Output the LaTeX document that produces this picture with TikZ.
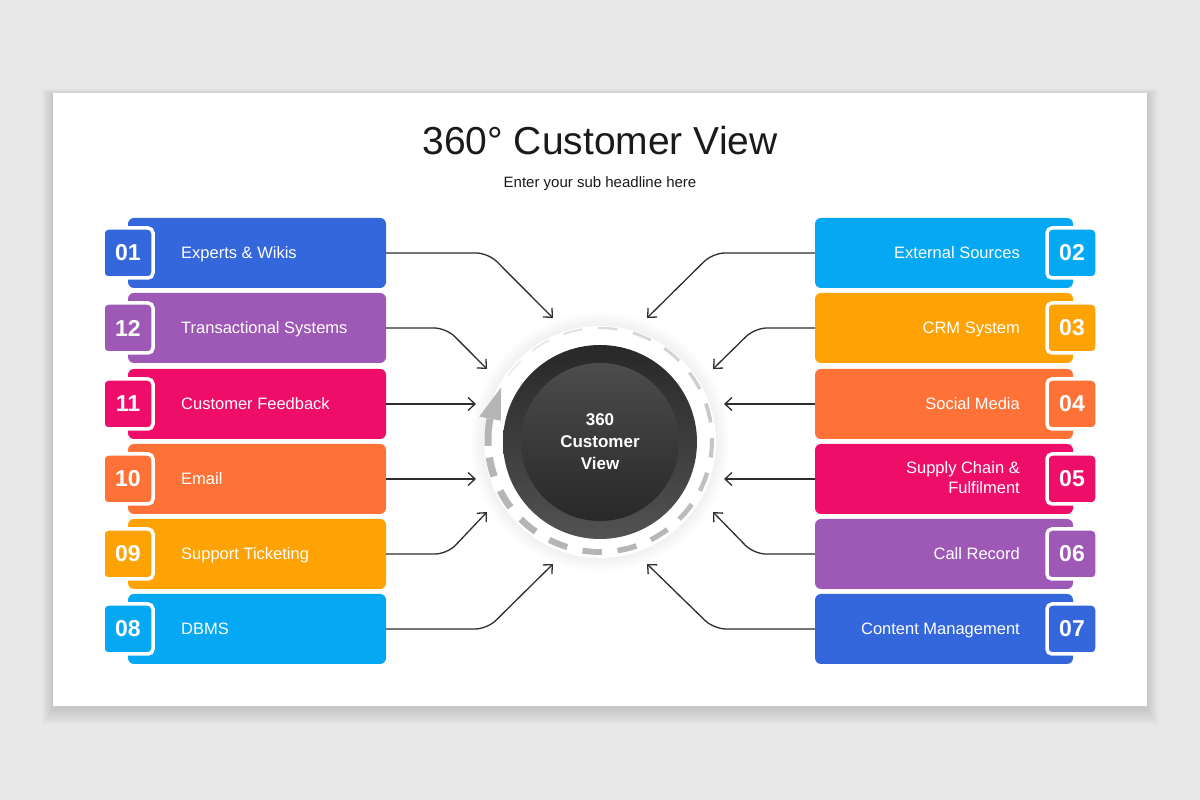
\documentclass[tikz,border=0pt]{standalone}
\usepackage{fontspec}
\setmainfont{Liberation Sans}
\usetikzlibrary{arrows.meta,calc}
\definecolor{cblue}{HTML}{3467DC}
\definecolor{cpurple}{HTML}{9E58B6}
\definecolor{cpink}{HTML}{EF0D6A}
\definecolor{corange}{HTML}{FE7237}
\definecolor{camber}{HTML}{FFA305}
\definecolor{csky}{HTML}{05A8F3}
\definecolor{bgc}{HTML}{E9E8E9}
\definecolor{linec}{HTML}{2E2E2E}
\definecolor{dashc}{HTML}{B5B5B5}
\definecolor{titlec}{HTML}{1A1A1A}
\begin{document}
\begin{tikzpicture}[x=1pt,y=1pt,
  itembox/.style={rounded corners=6pt, minimum width=258pt, minimum height=70pt, inner sep=0pt, draw=none},
  numbox/.style={rounded corners=5pt, minimum size=50pt, draw=white, line width=3.5pt, text=white, inner sep=0pt, font=\fontsize{23}{23}\selectfont\bfseries},
  lbl/.style={text=white, inner sep=0pt, font=\fontsize{16.5}{20}\selectfont},
  conn/.style={draw=linec, line width=1.3pt, rounded corners=12pt, -{Straight Barb[length=7pt,width=13pt,line width=1.3pt]}},
]
\useasboundingbox (0,0) rectangle (1200,800);
\fill[bgc] (0,0) rectangle (1200,800);
% card shadow
\foreach \k in {1,...,16}{
  \fill[black, opacity=0.006] (53-0.7*\k,94-\k-3) rectangle (1147+0.7*\k,707+0.4*\k-2);
}
\fill[white] (53,94) rectangle (1147,707);
\node[font=\fontsize{39}{39}\selectfont, text=titlec, anchor=base, inner sep=0pt] (title) at (600,645) {360° Customer View};
\node[font=\fontsize{15}{15}\selectfont, text=titlec, anchor=base, inner sep=0pt] (subtitle) at (600,612) {Enter your sub headline here};

% left boxes
\foreach \i/\y/\n/\c in {1/547/01/cblue, 2/472/12/cpurple, 3/396/11/cpink, 4/321/10/corange, 5/246/09/camber, 6/171/08/csky}{
  \node[itembox, fill=\c] (L\i) at (257,\y) {};
  \node[numbox, fill=\c] (LN\i) at (128,\y) {\n};
}
% right boxes
\foreach \i/\y/\n/\c in {1/547/02/csky, 2/472/03/camber, 3/396/04/corange, 4/321/05/cpink, 5/246/06/cpurple, 6/171/07/cblue}{
  \node[itembox, fill=\c] (R\i) at (944,\y) {};
  \node[numbox, fill=\c] (RN\i) at (1072,\y) {\n};
}
% labels
\node[lbl, anchor=base west] (LT1) at (181,541) {Experts \& Wikis};
\node[lbl, anchor=base west] (LT2) at (181,466) {Transactional Systems};
\node[lbl, anchor=base west] (LT3) at (181,390) {Customer Feedback};
\node[lbl, anchor=base west] (LT4) at (181,315) {Email};
\node[lbl, anchor=base west] (LT5) at (181,240) {Support Ticketing};
\node[lbl, anchor=base west] (LT6) at (181,165) {DBMS};
\node[lbl, anchor=base east] (RT1) at (1020,541) {External Sources};
\node[lbl, anchor=base east] (RT2) at (1020,466) {CRM System};
\node[lbl, anchor=base east] (RT3) at (1020,390) {Social Media};
\node[lbl, anchor=base east, align=right] (RT4) at (1020,306) {Supply Chain \&\\Fulfilment};
\node[lbl, anchor=base east] (RT5) at (1020,240) {Call Record};
\node[lbl, anchor=base east] (RT6) at (1020,165) {Content Management};

% centre halo
\coordinate (ctr) at (600,358);
\foreach \k in {0,...,14}{
  \fill[black, opacity=0.0035] (ctr) circle[radius=116+\k];
}
\fill[white] (ctr) circle[radius=116];

% dashed ring
\coordinate (ring) at (600,360);
\foreach \i in {0,...,17}{
  \pgfmathsetmacro{\a}{145-18*\i}
  \pgfmathsetmacro{\b}{135-18*\i}
  \pgfmathsetmacro{\w}{1.2+0.36*\i}
  \pgfmathsetmacro{\o}{min(1,0.3+0.06*\i)}
  \draw[dashc, line width=\w pt, draw opacity=\o] (ring) ++(\a:112) arc[start angle=\a, end angle=\b, radius=112];
}
\draw[dashc, line width=7pt] (ring) ++(-177:112) arc[start angle=-177, end angle=-191, radius=112];
\fill[dashc] ($(ring)+(169:101)$) -- ($(ring)+(169:123)$) -- ($(ring)+(152:112)$) -- cycle;

% dark circle
\node[circle, minimum size=194pt, inner sep=0pt, top color={rgb,255:red,40;green,40;blue,40}, bottom color={rgb,255:red,82;green,82;blue,82}] (outer) at (ctr) {};
\node[circle, minimum size=158pt, inner sep=0pt, top color={rgb,255:red,76;green,76;blue,76}, bottom color={rgb,255:red,40;green,40;blue,40}] (inner) at (ctr) {};
\node[align=center, text=white, font=\fontsize{17}{22}\selectfont\bfseries, inner sep=0pt] (ctext) at (ctr) {360\\Customer\\View};

% arrow targets
\coordinate (tL1) at (553,482);
\coordinate (tL2) at (487,431);
\coordinate (tL3) at (476,396);
\coordinate (tL4) at (476,321);
\coordinate (tL5) at (487,288);
\coordinate (tL6) at (553,236);
\coordinate (tR1) at (647,482);
\coordinate (tR2) at (713,431);
\coordinate (tR3) at (724,396);
\coordinate (tR4) at (724,321);
\coordinate (tR5) at (713,288);
\coordinate (tR6) at (647,236);

% connectors
\draw[conn] (L1.east) -- ++(102,0) -- (tL1);
\draw[conn] (L2.east) -- ++(60,0) -- (tL2);
\draw[conn] (L3.east) -- (tL3);
\draw[conn] (L4.east) -- (tL4);
\draw[conn] (L5.east) -- ++(61,0) -- (tL5);
\draw[conn] (L6.east) -- ++(101,0) -- (tL6);
\draw[conn] (R1.west) -- ++(-102,0) -- (tR1);
\draw[conn] (R2.west) -- ++(-60,0) -- (tR2);
\draw[conn] (R3.west) -- (tR3);
\draw[conn] (R4.west) -- (tR4);
\draw[conn] (R5.west) -- ++(-61,0) -- (tR5);
\draw[conn] (R6.west) -- ++(-101,0) -- (tR6);
\end{tikzpicture}
\end{document}
